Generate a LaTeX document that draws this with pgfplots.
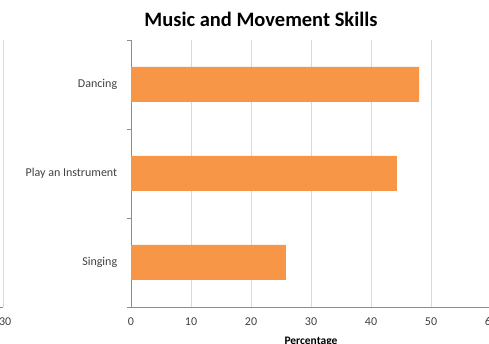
\documentclass[border=0pt]{standalone}
\usepackage{pgfplots}
\pgfplotsset{compat=1.18}
\usepackage{fontspec}
\setmainfont{Carlito}
\definecolor{barorange}{HTML}{F79646}
\definecolor{gridgray}{HTML}{D9D9D9}
\definecolor{axisgray}{HTML}{8C8C8C}
\definecolor{txt}{HTML}{404040}
\begin{document}
\begin{tikzpicture}
\begin{axis}[
  at={(0,0)}, anchor=south west,
  scale only axis, width=491pt, height=267pt,
  xmin=-21.8333, xmax=60, ymin=-0.5, ymax=2.5,
  axis y line*=middle, axis x line*=bottom,
  x axis line style={draw=none},
  y axis line style={draw=axisgray},
  hide obscured x ticks=false,
  xtick={-21.28,0,10,20,30,40,50,60},
  xticklabels={-30,0,10,20,30,40,50,60},
  xtick style={draw=none},
  xmajorgrids, grid style={gridgray, line width=0.8pt},
  ytick={0,1,2},
  yticklabels={Singing,Play an Instrument,Dancing},
  ytick style={draw=none},
  extra y ticks={-0.5,0.5,1.5,2.5},
  extra y tick labels={},
  extra y tick style={ytick style={draw=axisgray}, major tick length=4pt, tick align=outside},
  tick label style={font=\fontsize{12}{14}\selectfont, text=txt},
  xticklabel style={yshift=-7pt},
  yticklabel style={xshift=-6pt},
  xlabel={Percentage},
  xlabel style={at={(axis description cs:0.6334,0)}, anchor=north, yshift=-27pt, font=\fontsize{11.5}{13}\selectfont\bfseries, text=black},
  xbar, bar width=35pt,
  clip=false,
]
\addplot[fill=barorange, draw=none] coordinates {(25.8,0) (44.3,1) (48.0,2)};
\draw[axisgray] (axis cs:0,-0.5) -- (axis cs:60,-0.5);
\draw[axisgray] ([xshift=-3pt]axis cs:-21.28,-0.5) -- (axis cs:-21.28,-0.5);
\end{axis}
\node[anchor=base, font=\fontsize{20.5}{24}\selectfont\bfseries] at (261pt,280pt) {Music and Movement Skills};
\pgfresetboundingbox
\path[use as bounding box] (0pt,-37pt) rectangle (489pt,307pt);
\end{tikzpicture}
\end{document}
